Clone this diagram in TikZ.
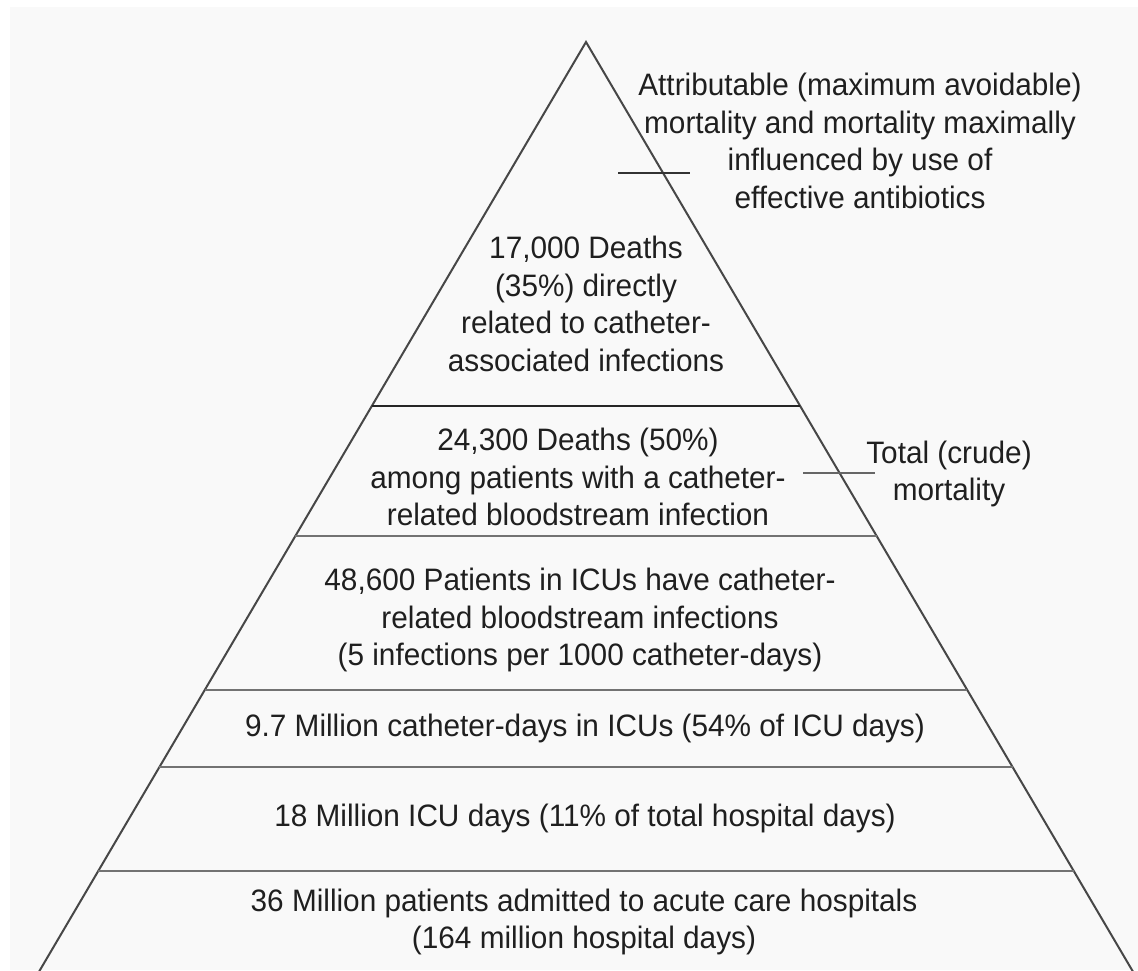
\documentclass[tikz,border=0pt]{standalone}
\usepackage{fontspec}
\setmainfont{Liberation Sans}[FakeStretch=0.96]
\usetikzlibrary{calc}

\tikzset{
  edge/.style={draw=black!72, line width=2pt},
  tier/.style={draw=black!55, line width=2.6pt},
  tiertop/.style={draw=black!85, line width=2.6pt},
  tick/.style={draw=black!80, line width=2.2pt},
  label/.style={align=center, inner sep=0pt, text=black!88,
    font=\fontsize{31}{37.5}\selectfont},
}

\begin{document}
\begin{tikzpicture}[x=1pt, y=-1pt]
  % page and background
  \fill[white] (0,0) rectangle (1138,970);
  \fill[black!2.5] (10,7) rectangle (1138,970);
  \useasboundingbox (0,0) rectangle (1138,970);

  % pyramid outline
  \coordinate (apex) at (586,42);
  \coordinate (bl) at (40,970);
  \coordinate (br) at (1132,970);
  \begin{scope}
    \clip (0,0) rectangle (1138,970);
    \draw[edge] ($(apex)!1.02!(bl)$) -- (apex) -- ($(apex)!1.02!(br)$);
  \end{scope}

  % tier boundaries: y positions in picture coordinates
  \foreach \name/\yy/\sty in {t1/406/tiertop, t2/536/tier, t3/690/tier, t4/767/tier, t5/871/tier} {
    \coordinate (\name L) at ($(apex)!{(\yy-42)/928}!(bl)$);
    \coordinate (\name R) at ($(apex)!{(\yy-42)/928}!(br)$);
    \draw[\sty] (\name L) -- (\name R);
  }

  % tier texts
  \node[label] (deaths17) at (586,304) {17,000 Deaths\\(35\%) directly\\related to catheter-\\associated infections};
  \node[label] (deaths24) at (578,477) {24,300 Deaths (50\%)\\among patients with a catheter-\\related bloodstream infection};
  \node[label] (crbsi) at (580,620) {48,600 Patients in ICUs have catheter-\\related bloodstream infections\\(5 infections per 1000 catheter-days)};
  \node[label] (catdays) at (585,728) {9.7 Million catheter-days in ICUs (54\% of ICU days)};
  \node[label] (icudays) at (585,818) {18 Million ICU days (11\% of total hospital days)};
  \node[label] (admits) at (584,922) {36 Million patients admitted to acute care hospitals\\(164 million hospital days)};

  % side annotations with their tick marks
  \node[label] (attrib) at (860,141) {Attributable (maximum avoidable)\\mortality and mortality maximally\\influenced by use of\\effective antibiotics};
  \node[label] (crude) at (949,474) {Total (crude)\\mortality};
  \coordinate (a1) at (618,173);
  \coordinate (a2) at (690,173);
  \coordinate (c1) at (803,473);
  \coordinate (c2) at (875,473);
  \draw[tick] (a1) -- (a2);
  \draw[tick, draw=black!60] (c1) -- (c2);
\end{tikzpicture}
\end{document}
